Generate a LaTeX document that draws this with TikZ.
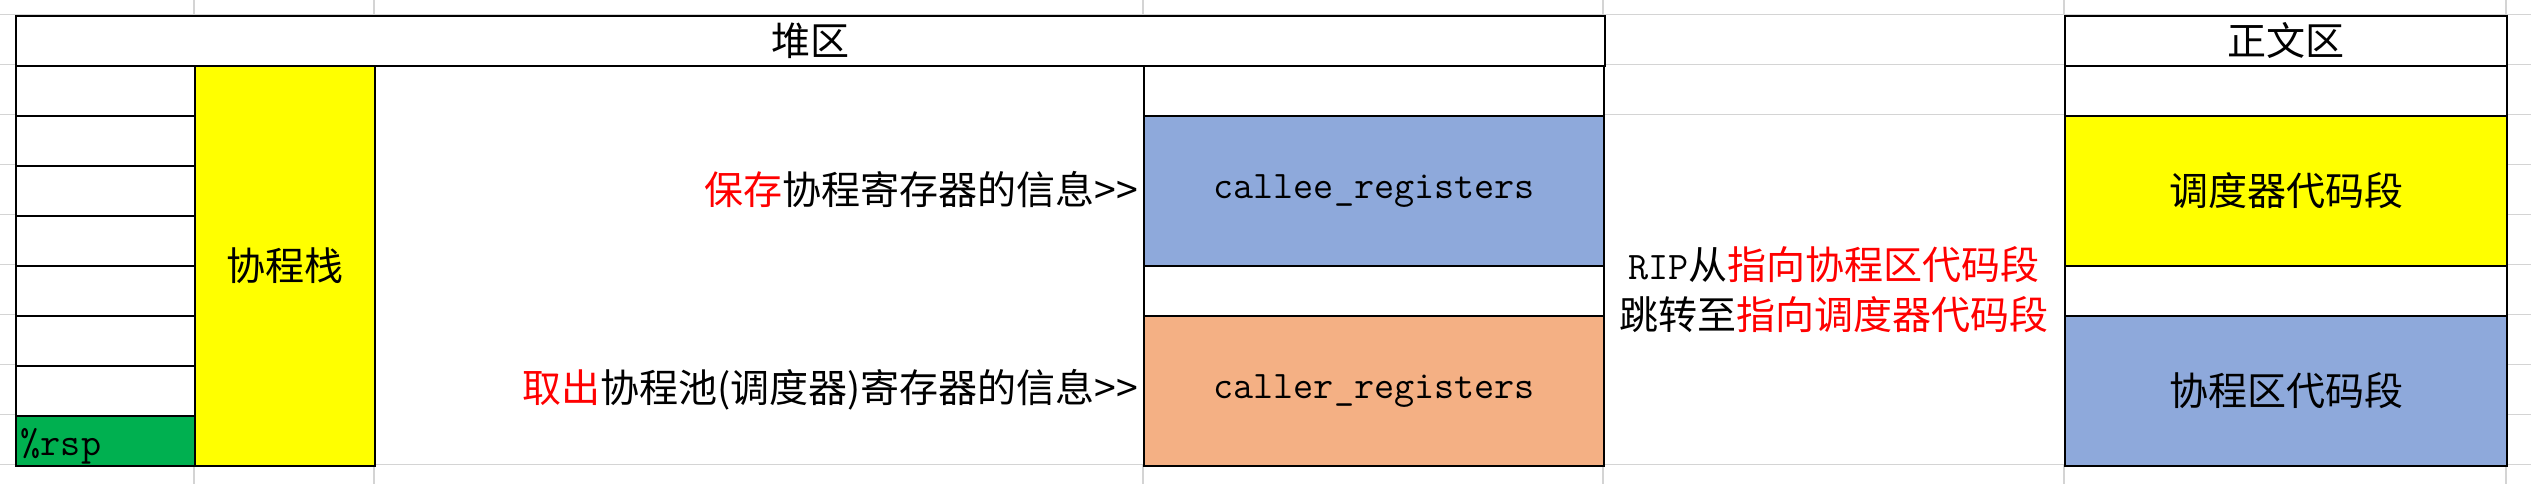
\documentclass[tikz,border=0pt]{standalone}
\usepackage{fontspec}
\setmainfont{Noto Sans CJK SC}
\definecolor{cellyellow}{HTML}{FFFF00}
\definecolor{cellblue}{HTML}{8EA9DB}
\definecolor{cellorange}{HTML}{F4B084}
\definecolor{cellgreen}{HTML}{00B050}
\definecolor{sheetgray}{HTML}{D4D4D4}
\tikzset{
  cell/.style={draw, line width=0.6pt, anchor=north west, inner sep=0pt, fill=white},
  sheetline/.style={draw=sheetgray, line width=0.45pt},
  hint/.style={anchor=east, inner sep=0pt},
}
\begin{document}
\begin{tikzpicture}[x=0.01cm, y=-0.01cm, font=\fontsize{11.1}{14.2}\selectfont]
        \useasboundingbox (0,0) rectangle (2531,484);

        % sheet grid lines
        \draw[sheetline] (0,14.5) -- (2531,14.5) (0,464.5) -- (2531,464.5);
        \draw[sheetline] (0,64.5) -- (14.5,64.5) (1603,64.5) -- (2064,64.5) (2506,64.5) -- (2531,64.5);
        \draw[sheetline] (0,114.5) -- (14.5,114.5) (1603,114.5) -- (2064,114.5) (2506,114.5) -- (2531,114.5);
        \draw[sheetline] (0,164.5) -- (14.5,164.5) (2506,164.5) -- (2531,164.5);
        \draw[sheetline] (0,214.5) -- (14.5,214.5) (2506,214.5) -- (2531,214.5);
        \draw[sheetline] (0,264.5) -- (14.5,264.5) (2506,264.5) -- (2531,264.5);
        \draw[sheetline] (0,314.5) -- (14.5,314.5) (2506,314.5) -- (2531,314.5);
        \draw[sheetline] (0,364.5) -- (14.5,364.5) (2506,364.5) -- (2531,364.5);
        \draw[sheetline] (0,414.5) -- (14.5,414.5) (2506,414.5) -- (2531,414.5);
        \draw[sheetline] (194,0) -- (194,14.5) (374,0) -- (374,14.5) (1143,0) -- (1143,14.5)
                         (1603,0) -- (1603,64.5) (2064,0) -- (2064,14.5) (2506,0) -- (2506,14.5);
        \draw[sheetline] (194,464.5) -- (194,484) (374,464.5) -- (374,484) (1143,464.5) -- (1143,484)
                         (1603,464.5) -- (1603,484) (2064,464.5) -- (2064,484) (2506,464.5) -- (2506,484);

        % heap
        \node[cell, minimum width=15.885cm, minimum height=0.5cm] (heap) at (14.5,14.5) {};
        \node (heaptitle) at (heap.center) {堆区};

        \node[cell, minimum width=1.8cm, minimum height=0.5cm] (row1) at (14.5,64.5) {};
        \node[cell, minimum width=1.8cm, minimum height=0.5cm] (row2) at (14.5,114.5) {};
        \node[cell, minimum width=1.8cm, minimum height=0.5cm] (row3) at (14.5,164.5) {};
        \node[cell, minimum width=1.8cm, minimum height=0.5cm] (row4) at (14.5,214.5) {};
        \node[cell, minimum width=1.8cm, minimum height=0.5cm] (row5) at (14.5,264.5) {};
        \node[cell, minimum width=1.8cm, minimum height=0.5cm] (row6) at (14.5,314.5) {};
        \node[cell, minimum width=1.8cm, minimum height=0.5cm] (row7) at (14.5,364.5) {};
        \node[cell, minimum width=1.8cm, minimum height=0.5cm, fill=cellgreen] (rsp) at (14.5,414.5) {};
        \node[anchor=base west, inner sep=0pt] (rsplabel) at (20,455) {\ttfamily\%rsp};

        \node[cell, minimum width=1.8cm, minimum height=4cm, fill=cellyellow] (stack) at (194,64.5) {};
        \node (stacklabel) at (stack.center) {协程栈};

        \node[cell, minimum width=4.6cm, minimum height=0.5cm] (heaptop) at (1143,64.5) {};
        \node[cell, minimum width=4.6cm, minimum height=1.5cm, fill=cellblue] (callee) at (1143,114.5) {};
        \node (calleelabel) at (callee.center) {\ttfamily callee\_registers};
        \node[cell, minimum width=4.6cm, minimum height=0.5cm] (heapgap) at (1143,264.5) {};
        \node[cell, minimum width=4.6cm, minimum height=1.5cm, fill=cellorange] (caller) at (1143,314.5) {};
        \node (callerlabel) at (caller.center) {\ttfamily caller\_registers};

        \node[hint] (save) at (1139,189.5) {\textcolor{red}{保存}协程寄存器的信息>{}>};
        \node[hint] (load) at (1139,389.5) {\textcolor{red}{取出}协程池(调度器)寄存器的信息>{}>};

        % RIP
        \node[align=center, inner sep=0pt] (rip) at (1834,289.5)
            {{\ttfamily RIP}从\textcolor{red}{指向协程区代码段}\\跳转至\textcolor{red}{指向调度器代码段}};

        % text segment
        \node[cell, minimum width=4.42cm, minimum height=0.5cm] (text) at (2064,14.5) {};
        \node (texttitle) at (text.center) {正文区};
        \node[cell, minimum width=4.42cm, minimum height=0.5cm] (texttop) at (2064,64.5) {};
        \node[cell, minimum width=4.42cm, minimum height=1.5cm, fill=cellyellow] (sched) at (2064,114.5) {};
        \node (schedlabel) at (sched.center) {调度器代码段};
        \node[cell, minimum width=4.42cm, minimum height=0.5cm] (textgap) at (2064,264.5) {};
        \node[cell, minimum width=4.42cm, minimum height=1.5cm, fill=cellblue] (coro) at (2064,314.5) {};
        \node (corolabel) at (coro.center) {协程区代码段};

    \end{tikzpicture}
\end{document}
